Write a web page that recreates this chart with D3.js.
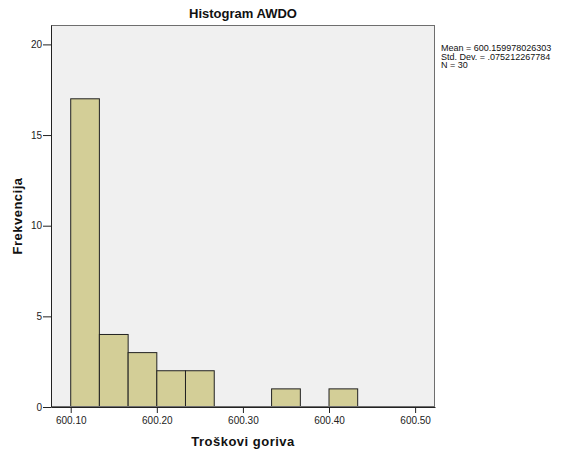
<!DOCTYPE html>
<html>
<head>
<meta charset="utf-8">
<script src="https://cdnjs.cloudflare.com/ajax/libs/d3/7.8.5/d3.min.js"></script>
<style>
  body { margin: 0; background: #fff; }
  svg { display: block; font-family: Arial, "Liberation Sans", sans-serif; }
</style>
</head>
<body>
<div id="chart"></div>
<script>
// histogram bins (lower edge) and frequencies
var binStarts = [600.1000, 600.1333, 600.1667, 600.2000, 600.2333, 600.2667, 600.3000, 600.3333, 600.3667, 600.4000];
var binEnds   = [600.1333, 600.1667, 600.2000, 600.2333, 600.2667, 600.3000, 600.3333, 600.3667, 600.4000, 600.4333];
var counts    = [17, 4, 3, 2, 2, 0, 0, 1, 0, 1];

var xTicks = [600.10, 600.20, 600.30, 600.40, 600.50];
var yTicks = [0, 5, 10, 15, 20];
var statsLines = ["Mean = 600.159978026303", "Std. Dev. = .075212267784", "N = 30"];

var width = 565,
    height = 453;
// plot frame (note: "top" is reserved on window, so use prefixed names)
var plotL = 51, plotR = 435, plotT = 25, plotB = 407;

var svg = d3.select("#chart").append("svg")
    .attr("width", width)
    .attr("height", height);

var x = d3.scaleLinear()
    .domain([600.0771, 600.5231])
    .range([plotL, plotR]);

var y = d3.scaleLinear()
    .domain([0, 21.07])
    .range([plotB, plotT]);

// plot background
svg.append("rect")
    .attr("x", plotL)
    .attr("y", plotT)
    .attr("width", plotR - plotL)
    .attr("height", plotB - plotT)
    .attr("fill", "#f0f0f0");

var bins = binStarts.map(function(d, i) {
  return { x0: d, x1: binEnds[i], n: counts[i] };
}).filter(function(d) { return d.n > 0; });

svg.selectAll("rect.bar")
    .data(bins)
  .enter().append("rect")
    .attr("class", "bar")
    .attr("x", function(d) { return x(d.x0); })
    .attr("y", function(d) { return y(d.n); })
    .attr("width", function(d) { return x(d.x1) - x(d.x0); })
    .attr("height", function(d) { return y(0) - y(d.n); })
    .attr("fill", "#d3ce97")
    .attr("stroke", "#222")
    .attr("stroke-width", 1);

// frame
svg.append("rect")
    .attr("x", plotL + 0.5)
    .attr("y", plotT + 0.5)
    .attr("width", plotR - plotL - 1)
    .attr("height", plotB - plotT - 1)
    .attr("fill", "none")
    .attr("stroke", "#6e6e6e")
    .attr("stroke-width", 1);

// axes
var xAxis = svg.append("g")
    .attr("transform", "translate(0," + plotB + ")")
    .call(d3.axisBottom(x).tickValues(xTicks).tickFormat(d3.format(".2f")).tickSize(6).tickSizeOuter(0));
var yAxis = svg.append("g")
    .attr("transform", "translate(" + plotL + ",0)")
    .call(d3.axisLeft(y).tickValues(yTicks).tickSize(8).tickSizeOuter(0));

[xAxis, yAxis].forEach(function(g) {
  g.select(".domain").attr("stroke", "#222");
  g.selectAll(".tick line").attr("stroke", "#222");
  g.selectAll(".tick text")
    .attr("fill", "#222")
    .style("font-size", "10px")
    .style("font-family", "Arial, 'Liberation Sans', sans-serif");
});
xAxis.selectAll(".tick text").attr("dy", "0.95em").attr("y", 7);
yAxis.selectAll(".tick text").attr("x", -9);

// title, centred over the plot
svg.append("text")
    .attr("x", (plotL + plotR) / 2)
    .attr("y", 18)
    .attr("text-anchor", "middle")
    .style("font-size", "13px")
    .style("font-weight", "bold")
    .attr("fill", "#111")
    .text("Histogram AWDO");

// axis titles
svg.append("text")
    .attr("x", (plotL + plotR) / 2)
    .attr("y", 446)
    .attr("text-anchor", "middle")
    .style("font-size", "13px")
    .style("font-weight", "bold")
    .style("letter-spacing", "0.5px")
    .attr("fill", "#111")
    .text("Troškovi goriva");

svg.append("text")
    .attr("transform", "translate(22," + (plotT + plotB) / 2 + ") rotate(-90)")
    .attr("text-anchor", "middle")
    .style("font-size", "13px")
    .style("font-weight", "bold")
    .style("letter-spacing", "0.5px")
    .attr("fill", "#111")
    .text("Frekvencija");

// stats box
svg.selectAll("text.stat")
    .data(statsLines)
  .enter().append("text")
    .attr("class", "stat")
    .attr("x", 441)
    .attr("y", function(d, i) { return 51 + i * 8.5; })
    .style("font-size", "9px")
    .attr("fill", "#111")
    .text(function(d) { return d; });
</script>
</body>
</html>
